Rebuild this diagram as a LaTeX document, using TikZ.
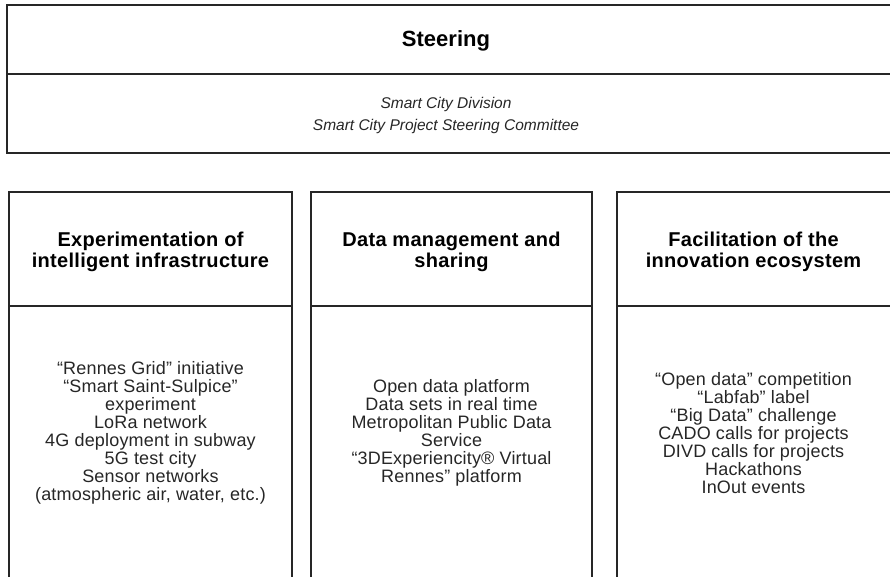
\documentclass[tikz,border=0pt]{standalone}
\usepackage{fontspec}
\setmainfont{Liberation Sans}
\newfontfamily\headfont[LetterSpace=1.5]{Liberation Sans}
\newfontfamily\bodyfont[LetterSpace=1]{Liberation Sans}
\usetikzlibrary{positioning}
\tikzset{
	frame/.style={draw=black!85, line width=2pt},
	titletext/.style={align=center, font=\fontsize{22}{24}\selectfont\bfseries},
	headtext/.style={align=center, font=\headfont\fontsize{20}{21}\selectfont\bfseries},
	bodytext/.style={align=center, text=black!85, font=\bodyfont\fontsize{18}{18}\selectfont},
	notetext/.style={align=center, text=black!85, font=\fontsize{15.5}{22}\selectfont\itshape},
}

\begin{document}
\begin{tikzpicture}[x=1pt,y=-1pt]
			% page size of the reference
			\useasboundingbox (0,0) rectangle (890,576);
			
			% rows of the columns
			\def\colTop{192}
			\def\colMid{306}
			\def\colBot{600}
			
			% Steering box on top
			\draw[frame] (7,5) rectangle (900,153);
			\draw[frame] (7,74) -- (900,74);
			\node[titletext] (steering) at (446,41) {Steering};
			\node[notetext] (steeringbody) at (446,115) {Smart City Division\\Smart City Project Steering Committee};
			
			% Column boxes
			\draw[frame] (9,\colTop) rectangle (292,\colBot);
			\draw[frame] (9,\colMid) -- (292,\colMid);
			\draw[frame] (311,\colTop) rectangle (592,\colBot);
			\draw[frame] (311,\colMid) -- (592,\colMid);
			\draw[frame] (617,\colTop) rectangle (900,\colBot);
			\draw[frame] (617,\colMid) -- (900,\colMid);
			
			% Column headings
			\node[headtext] (infrahead) at (150.5,252) {Experimentation of\\intelligent infrastructure};
			\node[headtext] (datahead) at (451.5,252) {Data management and\\sharing};
			\node[headtext] (ecohead) at (753.5,252) {Facilitation of the\\innovation ecosystem};
			
			% Column contents
			\node[bodytext] (infrabody) at (150.5,433) {“Rennes Grid” initiative\\“Smart Saint-Sulpice”\\experiment\\LoRa network\\4G deployment in subway\\5G test city\\Sensor networks\\(atmospheric air, water, etc.)};
			\node[bodytext] (databody) at (451.5,433) {Open data platform\\Data sets in real time\\Metropolitan Public Data\\Service\\“3DExperiencity® Virtual\\Rennes” platform};
			\node[bodytext] (ecobody) at (753.5,433) {“Open data” competition\\“Labfab” label\\“Big Data” challenge\\CADO calls for projects\\DIVD calls for projects\\Hackathons\\InOut events};
			
\end{tikzpicture}
\end{document}
